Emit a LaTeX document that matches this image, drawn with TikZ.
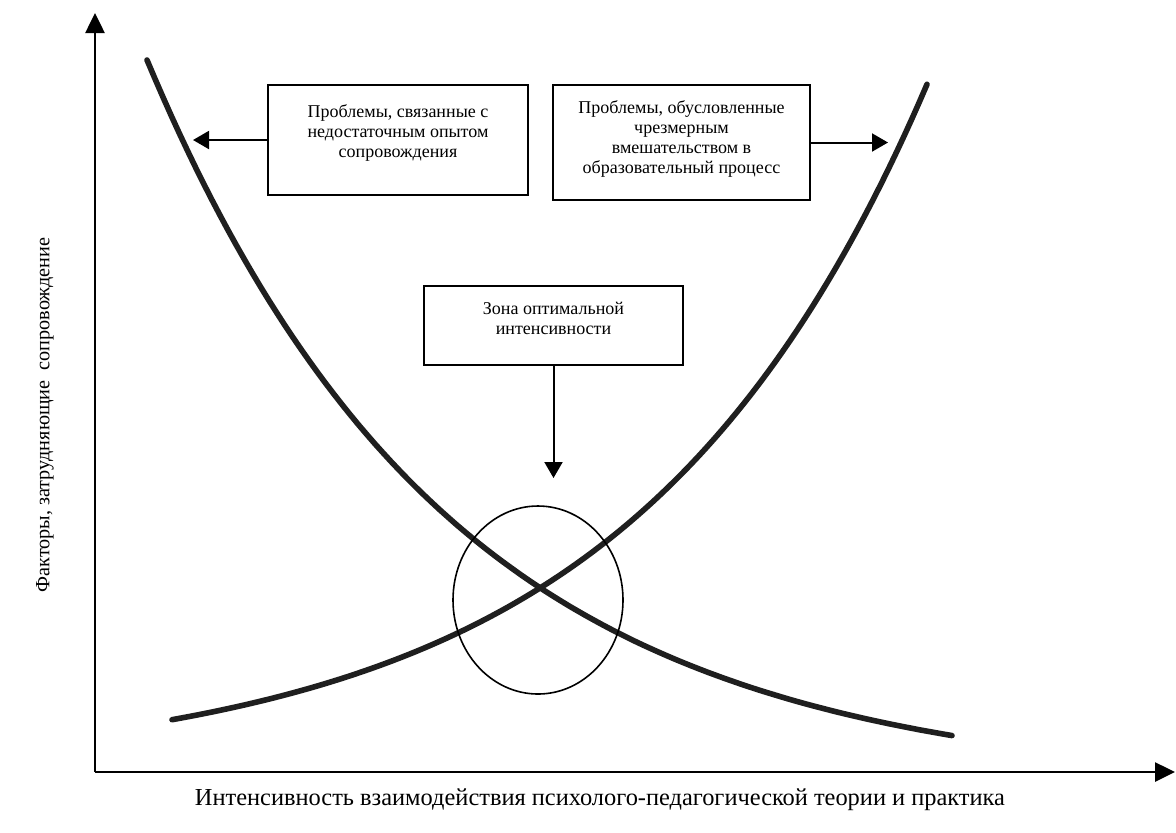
\documentclass[tikz,border=0pt]{standalone}
\usepackage{fontspec}
\setmainfont{Liberation Serif}
\usetikzlibrary{positioning}
\usetikzlibrary{arrows.meta}
\usetikzlibrary{calc}

\tikzset{
  problembox/.style={draw, line width=1pt, minimum width=#1, align=center,
    inner sep=0pt, font=\fontsize{9}{10}\selectfont},
  pointer/.style={line width=1pt, -{Triangle[length=8pt, width=9pt]}},
  axisline/.style={line width=1.3pt, -{Triangle[length=10pt, width=9.5pt]}},
  trend/.style={line width=2.8pt, black!88, line cap=round}
}

\begin{document}
\begin{tikzpicture}[x=0.5pt, y=-0.5pt]
\useasboundingbox (0,0) rectangle (1176,832);

% axes
\coordinate (origin) at (95,772);
\coordinate (ytip) at (95,13);
\coordinate (xtip) at (1175,772);
\draw[axisline] (origin) -- (ytip);
\draw[axisline] (origin) -- (xtip);

\node (xlabel) at (600,800) {\fontsize{12.2}{14}\selectfont Интенсивность взаимодействия психолого-педагогической теории и практика};
\node[rotate=90] (ylabel) at (45,415) {\fontsize{10.1}{13}\selectfont Факторы, затрудняющие\ \ сопровождение};

% the two curves
\draw[trend] plot[domain=147:952, samples=100] (\x, {786.7-726.7*exp(-0.0033*(\x-147))});
\draw[trend] plot[domain=172:927, samples=100] (\x, {772.4-184.4*exp(0.0034*(\x-540))});

% zone
\coordinate (zone) at (538,600);
\draw[line width=0.8pt] (zone) ellipse [x radius=85, y radius=94];

% boxes
\node[problembox=130pt, minimum height=55pt] (lack) at (398,140)
  {Проблемы, связанные с\\недостаточным опытом\\сопровождения\\[-1pt]};
\node[problembox=128.5pt, minimum height=57.5pt] (excess) at (681.5,142.5)
  {Проблемы, обусловленные\\чрезмерным\\вмешательством в\\образовательный процесс\\[-4.5pt]};
\node[problembox=129.5pt, minimum height=39.5pt] (optimum) at (553.5,325.5)
  {Зона оптимальной\\интенсивности\\[-2.5pt]};

\coordinate (lacktip) at (193,140);
\coordinate (excesstip) at (888,142.5);
\coordinate (optimumtip) at (553.5,478);
\draw[pointer] (lack.west) -- (lacktip);
\draw[pointer] (excess.east) -- (excesstip);
\draw[pointer] (optimum.south) -- (optimumtip);

\end{tikzpicture}
\end{document}
